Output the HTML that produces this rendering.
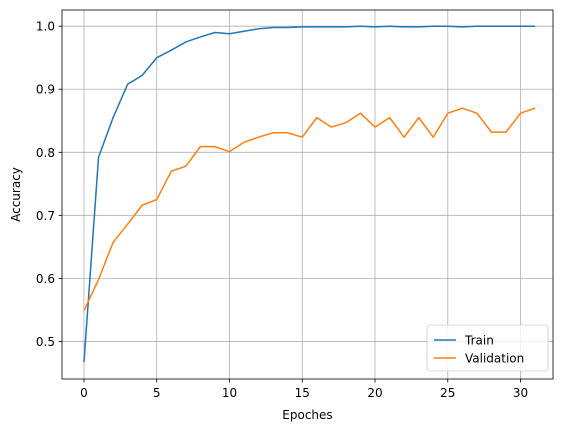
<!DOCTYPE html>
<html><head><meta charset="utf-8"><style>body{margin:0;background:#fff}svg{display:block;font-family:"DejaVu Sans","Liberation Sans",sans-serif}</style></head>
<body>
<svg id="chart" width="567" height="432"></svg>
<script>
const epochs = Array.from({length:32},(_, i)=>i);
const trainAcc = [0.467,0.792,0.855,0.908,0.922,0.950,0.962,0.975,0.983,0.990,0.988,0.992,0.996,0.998,0.998,0.999,0.999,0.999,0.999,1.0,0.999,1.0,0.999,0.999,1.0,1.0,0.999,1.0,1.0,1.0,1.0,1.0];
const valAcc = [0.549,0.598,0.657,0.686,0.716,0.725,0.770,0.778,0.809,0.809,0.801,0.816,0.824,0.831,0.831,0.824,0.855,0.840,0.847,0.862,0.840,0.855,0.824,0.855,0.824,0.862,0.870,0.862,0.832,0.832,0.862,0.870];
const xTicks = [0,5,10,15,20,25,30];
const yTicks = [0.5,0.6,0.7,0.8,0.9,1.0];
const yTickLabels = ["0.5","0.6","0.7","0.8","0.9","1.0"];

const L=62,R=553,T=10,B=379;
const xMin=-1.51,xMax=32.23,yMin=0.4404,yMax=1.0257;
const sx=v=>L+(v-xMin)/(xMax-xMin)*(R-L);
const sy=v=>B-(v-yMin)/(yMax-yMin)*(B-T);
const svg=document.getElementById('chart');
const NS='http://www.w3.org/2000/svg';
function mk(tag,attrs,parent){const e=document.createElementNS(NS,tag);for(const k in attrs)e.setAttribute(k,attrs[k]);(parent||svg).appendChild(e);return e;}

xTicks.forEach(t=>{const x=sx(t);
 const g=mk('line',{x1:x,x2:x,y1:T,y2:B,stroke:'#b0b0b0','stroke-width':0.8});
 
 
 mk('line',{x1:x,x2:x,y1:B,y2:B+3.5,stroke:'#000','stroke-width':0.8});
 const tx=mk('text',{x:x,y:B+18,'text-anchor':'middle','font-size':12,fill:'#000'});tx.textContent=t;
 
 
});
yTicks.forEach((t,i)=>{const y=sy(t);
 const g=mk('line',{x1:L,x2:R,y1:y,y2:y,stroke:'#b0b0b0','stroke-width':0.8});
 
 
 mk('line',{x1:L-3.5,x2:L,y1:y,y2:y,stroke:'#000','stroke-width':0.8});
 const tx=mk('text',{x:L-7,y:y+4.5,'text-anchor':'end','font-size':12,fill:'#000'});tx.textContent=yTickLabels[i];
 
 
});
function line(data,color,name){const p=mk('polyline',{points:data.map((v,i)=>sx(epochs[i])+','+sy(v)).join(' '),fill:'none',stroke:color,'stroke-width':1.5,'stroke-linejoin':'round'});
 
 }
line(trainAcc,'#1f77b4','train-line');
line(valAcc,'#ff7f0e','validation-line');
const fr=mk('rect',{x:L,y:T,width:R-L,height:B-T,fill:'none',stroke:'#000','stroke-width':0.8});


const xl=mk('text',{x:(L+R)/2,y:419,'text-anchor':'middle','font-size':12});xl.textContent='Epoches';


const yl=mk('text',{x:20,y:(T+B)/2,'text-anchor':'middle','font-size':12,transform:'rotate(-90 20 '+(T+B)/2+')'});yl.textContent='Accuracy';


const lg=mk('g',{});


mk('rect',{x:427,y:325,width:121,height:46,rx:3,fill:'#fff','fill-opacity':0.8,stroke:'#ccc','stroke-width':0.8},lg);
[['Train','#1f77b4',340],['Validation','#ff7f0e',358]].forEach(([n,c,y])=>{
 mk('line',{x1:434,x2:456,y1:y,y2:y,stroke:c,'stroke-width':1.5},lg);
 const t=mk('text',{x:465,y:y+4.5,'font-size':12},lg);t.textContent=n;
 
 
});
</script>
</body></html>
